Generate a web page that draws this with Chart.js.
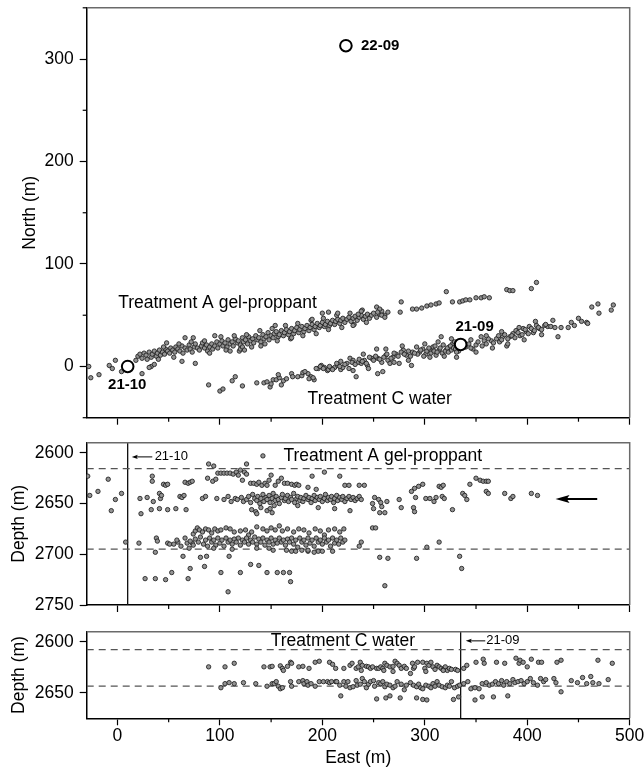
<!DOCTYPE html>
<html><head><meta charset="utf-8">
<script src="https://cdn.jsdelivr.net/npm/chart.js@4"></script>
<style>
html,body{margin:0;padding:0;background:#fff;}
body{width:644px;height:767px;position:relative;overflow:hidden;}
canvas{position:absolute;left:0;}
</style></head><body>
<canvas id="c1" width="644" height="440" style="top:0px"></canvas>
<canvas id="c2" width="644" height="195" style="top:430px"></canvas>
<canvas id="c3" width="644" height="147" style="top:620px"></canvas>
<script>
// ---------------- data ----------------
const EAST_TICKS = [0, 100, 200, 300, 400, 500];
const EAST_MINOR = [50, 150, 250, 350, 450];
const NORTH_TICKS = [0, 100, 200, 300];
const NORTH_MINOR = [-50, 50, 150, 250, 350];
const DEPTH_TICKS_A = [2600, 2650, 2700, 2750];
const DEPTH_TICKS_C = [2600, 2650];

const wellNames = ['22-09', '21-10', '21-09'];
const wellEast  = [223, 10, 335];
const wellNorth = [313, 0, 21.5];

const zoneA = [2615.5, 2695];
const zoneC = [2607.5, 2643.5];

// Treatment A gel-proppant: [east, north]
const planA = [
[-28,0],[-26,-11],[-18,-8],[-8,1],[-5,-2],[-2,6],[4,-5],[24,-7],
[18,6],[20,10],[22,12],[24,8],[26,13],[28,11],[29,7],[31,14],[33,9],[34,12],[36,15],[38,10],[39,13],[41,16],[42,11],[44,14],[46,12],[47,17],[49,15],[51,13],[52,18],[54,16],[56,14],[57,19],[59,17],[61,15],[63,20],[64,13],[66,18],[68,16],[70,21],[71,17],[73,14],[75,19],[76,22],[78,18],[80,16],[82,20],[83,23],[85,18],[87,21],[88,15],[90,19],[92,22],[93,17],[95,20],[97,24],[98,18],[100,22],[102,25],[103,20],[105,23],[107,19],[108,26],[110,22],[112,24],[113,20],[115,27],[117,23],[118,25],[120,21],[122,28],[123,24],[125,26],[127,22],[128,29],[130,25],[132,27],[133,23],[135,30],[137,26],[138,28],[140,24],[142,31],[143,27],[145,29],[147,33],[148,26],[150,30],[152,28],[153,32],[155,34],[157,29],[158,31],[160,35],[162,30],[163,33],[165,36],[167,31],[168,34],[170,37],[172,32],[173,35],[175,38],[177,33],[178,36],[180,39],[182,34],[183,37],[185,40],[187,35],[188,38],[190,41],[192,36],[193,39],[195,42],[197,38],[198,40],[200,43],[202,39],[203,41],[205,44],[207,40],[208,42],[210,45],[212,41],[213,44],[215,46],[217,42],[218,45],[220,47],[222,43],[224,46],[226,48],[228,44],[230,47],[232,49],[234,45],[236,48],[238,50],[240,46],[242,49],[244,51],[246,47],[248,50],[250,52],[253,48],[256,51],[258,54],[261,50],[264,53],
[101,29],[106,16],[114,30],[119,15],[126,31],[131,19],[139,35],[144,22],[151,37],[156,25],[164,40],[169,27],[176,42],[181,30],[189,45],[194,32],[201,47],[206,36],[214,50],[219,38],[227,52],[231,41],[239,55],[243,43],[85,25],[90,13],[60,22],[55,9],[45,19],[40,7],
[33,0],[36,2],[31,-1],[63,5],[76,3],[48,23],[66,28],[74,28],[72,24],[95,30],[120,17],[122,19],[124,16],[110,15],[154,40],[190,46],[206,53],[140,20],[170,28],[200,52],[235,51],[238,54],[253,58],[256,56],[254,53],[258,50],[261,48],[230,40],[215,52],
[276,53],[277,63],[288,56],[292,56],[297,57],[302,59],[306,60],[311,61],[314,62],[321,73],[327,63],[334,63],[337,64],[340,65],[344,65],[350,67],[355,67],[358,68],[363,67],[380,75],[383,74],[386,74],[404,76],[409,82]
];

// Treatment C water: [east, north]
const planC = [
[89,-18],[100,-24],[103,-22],[112,-14],[115,-10],[122,-19],[136,-16],[143,-16],[146,-15],[149,-20],[152,-13],[155,-13],[158,-11],[160,-18],[162,-14],[157,-8],[150,-17],[165,-12],
[170,-7],[171,-10],[176,-10],[180,-9],[181,-6],[186,-7],[189,-10],[192,-13],[196,-2],[199,1],[202,-1],[205,-4],
[183,-5],[187,-12],[191,-11],[194,-2],[198,0],[201,-2],[206,-3],[209,-2],[212,-1],[215,1],[218,-3],
[220,-1],[224,3],[227,8],[230,6],[233,-10],[235,4],[238,3],[241,6],[244,1],[248,8],[253,17],[254,8],[254,-7],[258,4],[259,-5],[262,11],[264,6],[266,3],[269,9],[272,12],[275,3],[279,16],[282,11],[287,1],[288,14],[292,19],
[295,14],[298,17],[301,12],[305,16],[308,19],[311,11],[314,16],[316,29],[321,16],[324,19],[327,22],[331,9],[334,22],
[293,12],[296,16],[299,10],[302,15],[304,18],[306,13],[309,15],[310,20],[312,14],[315,18],[317,13],[318,21],[320,15],[322,18],[323,14],[325,20],[326,16],[328,18],[329,24],[330,17],[332,20],[333,15],[336,19],[338,23],
[340,19],[347,17],[350,21],[355,29],[358,25],[360,22],[365,25],[370,27],[373,24],[376,29],[380,20],[383,29],[386,32],[389,35],[393,30],[396,37],[399,34],[402,39],[406,33],[409,40],[412,37],[417,40],[420,39],[423,39],[427,38],[430,29],[433,38],[443,43],[446,40],[453,44],[458,43],[459,42],[463,58],[469,61],[470,52],[482,55],[484,60],
[343,22],[345,18],[352,24],[356,20],[362,27],[367,23],[372,30],[375,26],[378,31],[381,27],[385,30],[388,28],[391,33],[395,31],[398,36],[401,32],[404,37],[407,35],[411,38],[414,36],[418,41],
[207,0],[210,-3],[214,3],[217,0],[222,2],[226,-2],[229,4],[232,2],[236,7],[239,5],[243,3],[246,9],[250,6],[252,10],[256,7],[260,9],[263,12],[267,8],[270,13],[274,10],[277,14],[280,12],[284,15],[286,10],[290,13],
[300,22],[305,9],[313,24],[319,10],[326,27],[331,14],[345,26],[350,14],[360,30],[366,18],[375,34],[381,22],[392,38],[397,26],[408,44],[414,31],[425,45],[440,38],[450,47],[262,17],[270,4],[278,20],[284,6],[240,12],[245,-2],[230,-4],[218,5]
];

// Treatment A gel-proppant: [east, depth]
const depthA = [
[-29,2623],[-27,2642],[-19,2638],[-9,2626],[-6,2657],[-2,2646],[4,2640],[8,2688],
[21,2689],[23,2660],[33,2656],[34,2623],[34,2628],[35,2648],[37,2698],[38,2684],[39,2687],[41,2655],[45,2631],[47,2632],[49,2631],[49,2656],[49,2689],[51,2690],[59,2688],[57,2655],[66,2629],[69,2630],[71,2629],[73,2628],[67,2656],[73,2689],
[89,2611],[94,2613],[126,2611],[142,2603],
[88,2625],[93,2628],[96,2626],[98,2620],[101,2620],[104,2620],[107,2620],[110,2620],[113,2621],[116,2619],[118,2622],[120,2617],[122,2627],[124,2619],[126,2621],[130,2630],[133,2630],[136,2631],[138,2629],[141,2632],[144,2630],[146,2632],[148,2627],[150,2622],[154,2632],[157,2628],[160,2625],[163,2630],[166,2630],[170,2631],[173,2632],[175,2631],[177,2632],[186,2634],[190,2623],[194,2636],[202,2619],[217,2623],[222,2632],[226,2632],[236,2632],[241,2632],[290,2635],[294,2633],[298,2631],[314,2633],[316,2634],[318,2632],[344,2631],[350,2625],[354,2627],[357,2628],[360,2628],[362,2628],
[22,2645],[29,2644],[41,2640],[42,2645],[43,2642],[61,2643],[63,2644],[65,2642],[83,2645],[86,2643],[97,2645],[104,2646],[108,2643],[111,2648],[115,2645],[117,2646],[121,2644],[123,2648],
[126,2646],[128,2643],[130,2649],[132,2641],[134,2645],[136,2647],[137,2643],[139,2650],[140,2645],[142,2641],[143,2648],[145,2644],[146,2646],[148,2642],[149,2649],[151,2645],[152,2640],[154,2647],[155,2643],[157,2646],[158,2650],[160,2644],[161,2641],[163,2647],[164,2645],[166,2642],[167,2648],[169,2644],[170,2646],[172,2640],[173,2649],[175,2645],[176,2643],[178,2647],[179,2644],[181,2648],[182,2645],[184,2642],[186,2646],[187,2644],[189,2649],[190,2645],[192,2642],[193,2647],[195,2644],[197,2646],[198,2643],[200,2648],[202,2645],[203,2641],[205,2647],[206,2644],[208,2646],[209,2643],[211,2649],[212,2645],[214,2642],[215,2647],[217,2644],[219,2646],[220,2643],[222,2648],[224,2645],[226,2643],[228,2646],[230,2644],[232,2647],[234,2645],[236,2643],[238,2646],
[131,2656],[135,2658],[140,2654],[146,2657],[149,2655],[151,2659],[136,2660],[153,2652],[176,2652],[196,2654],[212,2655],[227,2657],
[249,2650],[251,2644],[255,2646],[257,2649],[263,2648],[275,2646],[277,2654],[287,2638],[291,2644],[301,2645],[305,2645],[309,2648],[311,2644],[317,2643],[319,2645],[327,2656],[337,2640],[339,2642],[341,2646],[360,2638],[362,2640],[378,2640],[384,2645],[386,2643],[404,2640],[410,2642],[250,2655],[256,2659],[289,2654],[290,2658],[261,2659],[258,2653],
[74,2680],[76,2677],[78,2674],[80,2676],[83,2678],[86,2675],[89,2676],[92,2679],[95,2675],[98,2677],[101,2676],[106,2674],[110,2675],[114,2678],[120,2677],[125,2676],[128,2681],[131,2678],[136,2673],[142,2675],[146,2677],[150,2674],[154,2676],[158,2672],[161,2677],[166,2675],[172,2678],[177,2675],[182,2676],[187,2679],[193,2675],[198,2677],[202,2681],[206,2676],[212,2675],[217,2678],[221,2675],
[55,2690],[58,2686],[62,2692],[66,2684],[68,2689],[71,2687],[74,2691],[76,2685],[79,2688],[81,2683],[84,2690],[86,2686],[88,2692],[90,2684],[92,2688],[94,2686],[96,2691],[98,2684],[100,2689],[102,2686],[104,2692],[106,2684],[108,2688],[110,2686],[112,2690],[114,2685],[116,2688],[118,2684],[120,2691],[122,2686],[124,2688],[126,2684],[128,2690],[130,2686],[132,2688],[134,2683],[136,2690],[138,2685],[140,2688],[142,2684],[144,2691],[146,2686],[148,2688],[150,2684],[152,2690],[154,2686],[156,2689],[158,2684],[160,2688],[162,2686],[164,2691],[166,2685],[168,2688],[170,2684],[172,2690],[174,2686],[176,2693],[178,2684],[180,2688],[182,2686],[184,2691],[186,2684],[188,2689],[190,2686],[192,2692],[194,2684],[196,2688],[198,2686],[200,2690],[202,2684],[204,2688],[206,2686],[208,2692],[210,2684],[212,2689],[214,2686],[216,2690],[218,2684],[220,2688],[222,2686],
[165,2696],[170,2697],[174,2697],[186,2697],[196,2697],[200,2697],[210,2697],[148,2694],[136,2694],[112,2695],[94,2694],[70,2694],
[236,2692],[238,2688],[249,2674],[252,2674],[302,2693],[314,2688],
[27,2724],[37,2724],[47,2725],[53,2718],[64,2702],[69,2724],[71,2714],[81,2703],[85,2712],[87,2702],[101,2718],[109,2702],[108,2737],[120,2718],[130,2710],[138,2711],[146,2718],[152,2696],[156,2718],[162,2718],[168,2718],[169,2727],[180,2696],[186,2696],[192,2698],[256,2703],[264,2704],[261,2731],[292,2704],[334,2702],[336,2714]
];

// Treatment C water: [east, depth]
const depthC = [
[89,2624.5],[105,2624.5],[114,2621],[143,2624.5],[149,2624.5],[151,2624],[159,2623.5],[161,2626],[162,2628],[166,2624],[169,2620],[170,2621],[177,2624.5],[181,2624],[187,2626],[193,2620],[197,2619],[207,2620],[210,2622],[213,2626],[221,2626],[227,2623],[229,2621],[233,2626],[235,2624.5],[237,2620],[239,2623],[243,2624],[245,2624.5],[247,2626],[249,2624.5],[253,2626],[255,2626],[257,2624.5],[259,2626],[261,2621],[263,2623],[266,2624.5],[269,2624],[271,2619],[273,2621],[275,2623],[277,2626],[280,2624],[282,2626],[288,2621],[289,2626],[290,2624.5],[293,2620],[298,2620],[300,2626],[302,2621],[304,2623],[306,2620],[308,2624.5],[310,2627],[312,2623],[314,2624.5],[316,2626],[318,2627],[320,2624.5],[322,2628],[324,2626],[326,2627],[330,2627],[332,2628],[338,2626],[341,2623],[350,2620],[357,2617],[358,2621],[370,2620],[378,2621],[389,2616],[392,2621],[393,2618],[396,2620],[400,2624.5],[404,2617],[411,2620],[414,2620],[429,2620],[433,2618],[469,2618],[483,2621],[286,2631],[269,2629],[260,2628],[238,2628],[301,2629],[318,2628],
[101,2645],[105,2641],[109,2640],[114,2641],[123,2640],[135,2641],[146,2643.5],[151,2641],[153,2641],[155,2639],[157,2643.5],[159,2646],[161,2645],[169,2639],[170,2643.5],[177,2639],[181,2638],[182,2641],[185,2639],[186,2642.5],[189,2641],[193,2643.5],[197,2639],[201,2639],[205,2639],[207,2640],[209,2639],[213,2639],[214,2639],[217,2642.5],[221,2639],[223,2643.5],[225,2639],[227,2645],[230,2644],[233,2638],[234,2642.5],[237,2641.5],[239,2636],[241,2639],[243,2645],[245,2641.5],[247,2639],[250,2638],[251,2643.5],[255,2640],[257,2641],[259,2639],[261,2644],[263,2641.5],[266,2642.5],[269,2645],[271,2643.5],[273,2639],[277,2641.5],[280,2647],[282,2642.5],[286,2640],[289,2642.5],[292,2644],[294,2641.5],[296,2645],[298,2646],[301,2642.5],[304,2643.5],[306,2645],[308,2641],[310,2643.5],[312,2639],[314,2642.5],[317,2644],[320,2645],[322,2642.5],[324,2643.5],[326,2639],[329,2645],[332,2643.5],[334,2642.5],[338,2641],[342,2639],[345,2646],[349,2645],[353,2646],[356,2641],[360,2640],[363,2642.5],[366,2641.5],[369,2639],[372,2641],[375,2638],[377,2642.5],[380,2639],[383,2641],[386,2637],[388,2640],[391,2639],[394,2638],[397,2641],[400,2639],[403,2636],[406,2640],[410,2642.5],[413,2636],[416,2639],[418,2637],[426,2636],[428,2640],[433,2649],[443,2638],[454,2635],[462,2634],[470,2641],[479,2637],[464,2640],[449,2640],[458,2641],
[218,2653],[253,2656],[262,2655],[266,2653],[276,2655],[292,2655],[298,2656.5],[302,2657],[328,2656.5],[333,2654],[349,2657],[356,2654],[367,2654],[381,2653]
];

// ---------------- rendering ----------------
const FAMILY = "'Liberation Sans', Arial, Helvetica, sans-serif";
Chart.defaults.font.family = FAMILY;
Chart.defaults.font.size = 17.5;
Chart.defaults.color = '#000';

const E_MIN = -30, E_MAX = 500;
const TICK_GRID = {drawOnChartArea:false, drawTicks:true, tickLength:7, tickColor:'#000', tickWidth:1.2};
const BORDER = {color:'#000', width:1.5};

function xScale(showLabels, heightPx, withTitle) {
  return {
    type:'linear', min:E_MIN, max:E_MAX,
    afterBuildTicks: s => { s.ticks = EAST_TICKS.map(v => ({value:v})); },
    afterFit: s => { s.height = heightPx; s.paddingLeft = 0; s.paddingRight = 0; },
    grid: TICK_GRID, border: BORDER,
    ticks: {display:showLabels, padding:0, callback: v => String(v), maxRotation:0, autoSkip:false},
    title: withTitle ? {display:true, text:'East (m)', font:{size:17.5, lineHeight:1}, padding:0} : {display:false}
  };
}
function yScale(o) {
  return {
    type:'linear', min:o.min, max:o.max, reverse:!!o.reverse,
    afterBuildTicks: s => { s.ticks = o.ticks.map(v => ({value:v})); },
    afterFit: s => { s.width = 86.7; s.paddingTop = 0; s.paddingBottom = 0; },
    grid: TICK_GRID, border: BORDER,
    ticks: {padding:6, callback: v => String(v), autoSkip:false},
    title: {display:true, text:o.title, font:{size:17.5}, padding:{top:o.titlePad, bottom:0}}
  };
}

const pointStyle = {pointRadius:2.2, pointBackgroundColor:'#939393', pointBorderColor:'#1e1e1e', pointBorderWidth:0.85, pointHoverRadius:2.2, showLine:false};
const toXY = arr => arr.map(([x, y]) => ({x, y}));

function hLine(v, min, max) { return {type:'line', data:[{x:min, y:v}, {x:max, y:v}], showLine:true, borderColor:'#555', borderWidth:1.3, borderDash:[7,5], pointRadius:0, fill:false, order:5}; }
function vLine(v, min, max) { return {type:'line', data:[{x:v, y:min}, {x:v, y:max}], showLine:true, borderColor:'#111', borderWidth:1.3, pointRadius:0, fill:false, order:5}; }

const framePlugin = {
  id:'frame',
  afterDraw(chart, args, opts) {
    const {ctx, chartArea:a, scales:{x, y}} = chart;
    ctx.save();
    ctx.strokeStyle = '#6a6a6a'; ctx.lineWidth = 1.5;
    ctx.beginPath(); ctx.moveTo(a.left, a.top); ctx.lineTo(a.right, a.top); ctx.lineTo(a.right, a.bottom); ctx.stroke();
    ctx.strokeStyle = '#000'; ctx.lineWidth = 1.2;
    (opts.xMinor || []).forEach(v => { const p = x.getPixelForValue(v); ctx.beginPath(); ctx.moveTo(p, a.bottom); ctx.lineTo(p, a.bottom + 4); ctx.stroke(); });
    (opts.yMinor || []).forEach(v => { const p = y.getPixelForValue(v); ctx.beginPath(); ctx.moveTo(a.left, p); ctx.lineTo(a.left - 4, p); ctx.stroke(); });
    ctx.restore();
  }
};
const annotPlugin = {
  id:'annot',
  afterDatasetsDraw(chart, args, opts) {
    const {ctx, scales:{x, y}} = chart;
    ctx.save();
    (opts.items || []).forEach(it => {
      if (it.text) {
        ctx.font = (it.bold ? 'bold ' : '') + it.size + 'px ' + FAMILY;
        ctx.fillStyle = '#000'; ctx.textAlign = it.align || 'center'; ctx.textBaseline = 'middle';
        ctx.fillText(it.text, x.getPixelForValue(it.x), y.getPixelForValue(it.y));
      } else if (it.arrow) {
        const tx = x.getPixelForValue(it.x1), ex = x.getPixelForValue(it.x2), py = y.getPixelForValue(it.y);
        ctx.strokeStyle = '#000'; ctx.fillStyle = '#000'; ctx.lineWidth = it.lw;
        ctx.beginPath(); ctx.moveTo(tx + it.head * 0.7, py); ctx.lineTo(ex, py); ctx.stroke();
        ctx.beginPath(); ctx.moveTo(tx, py); ctx.lineTo(tx + it.head, py - it.half); ctx.lineTo(tx + it.head * 0.8, py); ctx.lineTo(tx + it.head, py + it.half); ctx.closePath(); ctx.fill();
      }
    });
    ctx.restore();
  }
};

const baseOpts = (top) => ({
  responsive:false, animation:false, devicePixelRatio:1,
  layout:{padding:{left:0, right:14.3, top:top, bottom:0}},
  plugins:{legend:{display:false}, tooltip:{enabled:false}}
});

// Panel 1: plan view
new Chart(document.getElementById('c1'), {
  type:'scatter',
  data:{datasets:[
    Object.assign({data:toXY(planA), order:3}, pointStyle),
    Object.assign({data:toXY(planC), order:3}, pointStyle),
    {data:wellEast.map((e, i) => ({x:e, y:wellNorth[i]})), pointRadius:5.8, pointBackgroundColor:'#fff', pointBorderColor:'#000', pointBorderWidth:2, showLine:false, order:1}
  ]},
  options:Object.assign(baseOpts(7.3), {
    scales:{
      x: xScale(false, 22.3, false),
      y: yScale({min:-50, max:350, ticks:NORTH_TICKS, title:'North (m)', titlePad:20})
    },
    plugins:{legend:{display:false}, tooltip:{enabled:false},
      frame:{xMinor:EAST_MINOR, yMinor:NORTH_MINOR},
      annot:{items:[
        {text:'Treatment A gel-proppant', x:97.7, y:61.4, size:17.5},
        {text:'Treatment C water', x:256, y:-32.3, size:17.5},
        {text:wellNames[0], x:237.7, y:313, size:15, bold:true, align:'left'},
        {text:wellNames[1], x:9.6, y:-17.6, size:15, bold:true},
        {text:wellNames[2], x:348.6, y:39, size:15, bold:true}
      ]}
    }
  }),
  plugins:[framePlugin, annotPlugin]
});

// Panel 2: Treatment A depth section
new Chart(document.getElementById('c2'), {
  type:'scatter',
  data:{datasets:[
    hLine(zoneA[0], E_MIN, E_MAX), hLine(zoneA[1], E_MIN, E_MAX),
    vLine(wellEast[1], 2590, 2750),
    Object.assign({data:toXY(depthA), order:3}, pointStyle)
  ]},
  options:Object.assign(baseOpts(12.7), {
    scales:{
      x: xScale(false, 20, false),
      y: yScale({min:2590, max:2750, reverse:true, ticks:DEPTH_TICKS_A, title:'Depth (m)', titlePad:8.5})
    },
    plugins:{legend:{display:false}, tooltip:{enabled:false},
      frame:{xMinor:EAST_MINOR},
      annot:{items:[
        {text:'Treatment A gel-proppant', x:259, y:2603.6, size:17.5},
        {arrow:true, x1:14, x2:34, y:2604, head:6, half:2.2, lw:1},
        {text:wellNames[1], x:36.3, y:2604, size:13, align:'left'},
        {arrow:true, x1:427.6, x2:468.3, y:2645.5, head:14, half:3.9, lw:2}
      ]}
    }
  }),
  plugins:[framePlugin, annotPlugin]
});

// Panel 3: Treatment C depth section
new Chart(document.getElementById('c3'), {
  type:'scatter',
  data:{datasets:[
    hLine(zoneC[0], E_MIN, E_MAX), hLine(zoneC[1], E_MIN, E_MAX),
    vLine(wellEast[2], 2590, 2675),
    Object.assign({data:toXY(depthC), order:3}, pointStyle)
  ]},
  options:Object.assign(baseOpts(11.7), {
    scales:{
      x: xScale(true, 48.7, true),
      y: yScale({min:2590, max:2675, reverse:true, ticks:DEPTH_TICKS_C, title:'Depth (m)', titlePad:8.5})
    },
    plugins:{legend:{display:false}, tooltip:{enabled:false},
      frame:{xMinor:EAST_MINOR},
      annot:{items:[
        {text:'Treatment C water', x:220, y:2599, size:17.5},
        {arrow:true, x1:340, x2:359, y:2599, head:6, half:2.2, lw:1},
        {text:wellNames[2], x:360, y:2599, size:13, align:'left'}
      ]}
    }
  }),
  plugins:[framePlugin, annotPlugin]
});
</script>
</body></html>
